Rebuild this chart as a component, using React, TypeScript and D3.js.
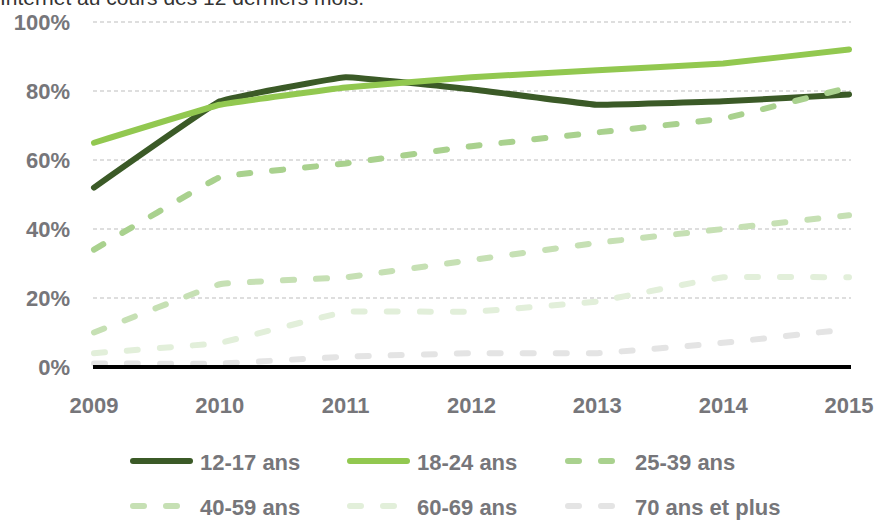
import React from "react";
import * as d3 from "d3";

const years = [2009, 2010, 2011, 2012, 2013, 2014, 2015];
const yTicks = [0, 20, 40, 60, 80, 100];
const seriesNames = ["12-17 ans", "18-24 ans", "25-39 ans", "40-59 ans", "60-69 ans", "70 ans et plus"];
const s1217 = [52, 77, 84, 80.5, 76, 77, 79];
const s1824 = [65, 76, 81, 84, 86, 88, 92];
const s2539 = [34, 55, 59, 64, 68, 72, 81];
const s4059 = [10, 24, 26, 31, 36, 40, 44];
const s6069 = [4, 7, 16, 16, 19, 26, 26];
const s70 = [1, 1, 3, 4, 4, 7, 11];
const colors = ["#3b5a27", "#92c850", "#a9d18e", "#c6e0b4", "#e2efda", "#e4e4e4"];
const dashed = [false, false, true, true, true, true];
const title = "Internet au cours des 12 derniers mois.";

const W = 892;
const H = 521;

export default function App() {
  const allSeries = [s1217, s1824, s2539, s4059, s6069, s70];
  const x = d3.scalePoint<number>().domain(years).range([94, 849]);
  const y = d3.scaleLinear().domain([0, 100]).range([367, 22]);
  const line = d3
    .line<number>()
    .x((_, i) => x(years[i]) as number)
    .y((d) => y(d))
    .curve(d3.curveCardinal.tension(0.8));
  const font = "'Liberation Sans', Arial, sans-serif";
  const textColor = "#76767a";
  const legendPos = [
    [130, 462],
    [347, 462],
    [565, 462],
    [130, 507],
    [347, 507],
    [565, 507],
  ];
  return (
    <svg
      width={W}
      height={H}
      style={{ position: "absolute", left: 0, top: 0 }}
      fontFamily={font}
    >
      <rect width={W} height={H} fill="#fff" />
      <text x={0} y={5} fontSize={21} fill="#333">
        {title}
      </text>
      {yTicks.map((t) =>
        t === 0 ? null : (
          <line
            key={t}
            x1={93}
            x2={851}
            y1={y(t)}
            y2={y(t)}
            stroke="#d3d3d3"
            strokeWidth={1.3}
            strokeDasharray="4 3"
          />
        )
      )}
      {yTicks.map((t) => (
        <text
          key={"l" + t}
          x={70}
          y={y(t) + 8}
          textAnchor="end"
          fontSize={22}
          fontWeight="bold"
          fill={textColor}
        >
          {t + "%"}
        </text>
      ))}
      {years.map((yr) => (
        <text
          key={yr}
          x={x(yr)}
          y={413}
          textAnchor="middle"
          fontSize={22}
          fontWeight="bold"
          fill={textColor}
        >
          {yr}
        </text>
      ))}
      {allSeries.map((s, i) => (
        <path
          key={i}
          d={line(s) || ""}
          fill="none"
          stroke={colors[i]}
          strokeWidth={6}
          strokeLinecap="round"
          strokeLinejoin="round"
          strokeDasharray={dashed[i] ? "11 22" : undefined}
        />
      ))}
      <line x1={93} x2={851} y1={367} y2={367} stroke="#000" strokeWidth={4} />
      {seriesNames.map((n, i) => {
        const [lx, ly] = legendPos[i];
        return (
          <g key={n}>
            <line
              x1={lx + 3}
              x2={lx + 60}
              y1={ly - 1}
              y2={ly - 1}
              stroke={colors[i]}
              strokeWidth={6}
              strokeLinecap="round"
              strokeDasharray={dashed[i] ? "11 22" : undefined}
            />
            <text
              x={lx + 70}
              y={ly + 8}
              fontSize={22}
              fontWeight="bold"
              fill={textColor}
            >
              {n}
            </text>
          </g>
        );
      })}
    </svg>
  );
}
